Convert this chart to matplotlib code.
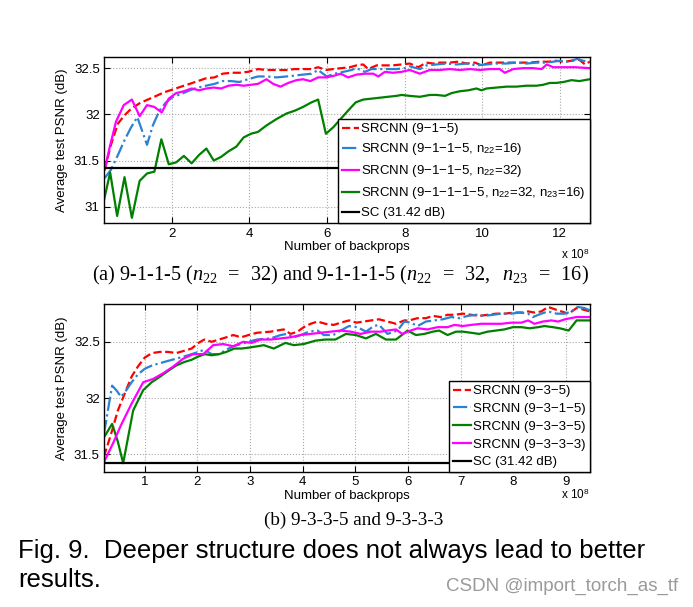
import numpy as np
import matplotlib
matplotlib.use("Agg")
import matplotlib.pyplot as plt
from matplotlib.ticker import FormatStrFormatter

plt.rcParams['font.family'] = ['Liberation Sans', 'DejaVu Sans']
plt.rcParams['mathtext.fontset'] = 'custom'
plt.rcParams['mathtext.rm'] = 'Liberation Serif'
plt.rcParams['mathtext.it'] = 'Liberation Serif:italic'
plt.rcParams['mathtext.sf'] = 'Liberation Sans'

# ---- panel (a) data, x in 1e8 backprops ----
a_red_x = [0.27, 0.43, 0.61, 0.78, 0.95, 1.17, 1.38, 1.60, 1.81, 2.03, 2.24, 2.46, 2.67, 2.88, 3.10, 3.31,
           3.53, 3.74, 3.96, 4.22, 4.44, 4.70, 4.96, 5.17, 5.38, 5.60, 5.77, 5.97, 6.16, 6.37, 6.59, 6.76,
           6.93, 7.06, 7.28, 7.49, 7.70, 7.92, 8.13, 8.35, 8.56, 8.73, 8.91, 9.16, 9.38, 9.60, 9.81, 9.98,
           10.20, 10.45, 10.71, 10.97, 11.23, 11.48, 11.70, 11.91, 12.09, 12.30, 12.50, 12.65, 12.77]
a_red_y = [31.40, 31.67, 31.90, 31.99, 32.06, 32.12, 32.16, 32.20, 32.24, 32.27, 32.30, 32.33, 32.36, 32.39,
           32.40, 32.44, 32.45, 32.45, 32.46, 32.49, 32.48, 32.48, 32.48, 32.49, 32.49, 32.49, 32.51, 32.48,
           32.49, 32.50, 32.51, 32.53, 32.54, 32.49, 32.53, 32.53, 32.53, 32.54, 32.55, 32.51, 32.56, 32.55,
           32.56, 32.56, 32.57, 32.55, 32.56, 32.53, 32.56, 32.56, 32.56, 32.56, 32.56, 32.57, 32.57, 32.58,
           32.57, 32.58, 32.59, 32.54, 32.57]

a_blue_x = [0.27, 0.43, 0.61, 0.78, 0.95, 1.11, 1.21, 1.36, 1.51, 1.68, 1.85, 2.03, 2.24, 2.46, 2.67, 2.88,
            3.10, 3.31, 3.53, 3.74, 3.96, 4.22, 4.44, 4.70, 4.96, 5.17, 5.38, 5.60, 5.77, 5.99, 6.20, 6.42,
            6.63, 6.76, 6.97, 7.15, 7.36, 7.57, 7.79, 8.01, 8.13, 8.39, 8.56, 8.82, 9.08, 9.34, 9.60, 9.85,
            10.11, 10.37, 10.63, 10.88, 11.14, 11.40, 11.66, 11.83, 12.00, 12.20, 12.45, 12.60, 12.77]
a_blue_y = [31.31, 31.40, 31.56, 31.72, 31.86, 31.97, 31.85, 31.67, 31.88, 32.04, 32.13, 32.19, 32.22, 32.26,
            32.29, 32.31, 32.33, 32.36, 32.36, 32.35, 32.38, 32.41, 32.41, 32.40, 32.41, 32.42, 32.43, 32.44,
            32.48, 32.41, 32.44, 32.46, 32.48, 32.50, 32.46, 32.49, 32.49, 32.49, 32.49, 32.50, 32.52, 32.49,
            32.53, 32.54, 32.55, 32.54, 32.55, 32.53, 32.54, 32.55, 32.55, 32.56, 32.55, 32.56, 32.56, 32.57,
            32.58, 32.57, 32.60, 32.58, 32.57]

a_mag_x = [0.27, 0.39, 0.56, 0.76, 0.97, 1.17, 1.36, 1.55, 1.74, 1.92, 2.11, 2.31, 2.51, 2.70, 2.89, 3.08,
           3.27, 3.46, 3.66, 3.85, 4.04, 4.22, 4.44, 4.61, 4.80, 5.00, 5.21, 5.38, 5.57, 5.77, 5.99, 6.20,
           6.35, 6.54, 6.76, 6.97, 7.19, 7.32, 7.49, 7.70, 7.92, 8.13, 8.39, 8.65, 8.91, 9.16, 9.42, 9.68,
           9.94, 10.20, 10.45, 10.58, 10.80, 11.05, 11.31, 11.53, 11.66, 11.83, 12.09, 12.40, 12.77]
a_mag_y = [31.40, 31.63, 31.92, 32.10, 32.16, 31.98, 32.10, 32.08, 32.02, 32.17, 32.23, 32.25, 32.28, 32.26,
           32.28, 32.29, 32.28, 32.31, 32.32, 32.31, 32.32, 32.33, 32.38, 32.33, 32.30, 32.34, 32.37, 32.38,
           32.36, 32.40, 32.40, 32.42, 32.44, 32.40, 32.43, 32.44, 32.44, 32.41, 32.46, 32.45, 32.46, 32.48,
           32.44, 32.48, 32.48, 32.49, 32.48, 32.49, 32.48, 32.49, 32.49, 32.45, 32.49, 32.50, 32.50, 32.49,
           32.54, 32.51, 32.51, 32.51, 32.50]

a_green_x = [0.25, 0.41, 0.59, 0.78, 0.97, 1.17, 1.36, 1.55, 1.73, 1.92, 2.11, 2.31, 2.51, 2.70, 2.89, 3.08,
             3.27, 3.46, 3.66, 3.85, 4.04, 4.22, 4.44, 4.70, 4.96, 5.17, 5.38, 5.60, 5.77, 5.97, 6.16, 6.35,
             6.54, 6.74, 6.93, 7.15, 7.36, 7.57, 7.79, 7.92, 8.13, 8.39, 8.65, 8.82, 9.04, 9.21, 9.42, 9.64,
             9.85, 9.98, 10.11, 10.37, 10.63, 10.88, 11.14, 11.40, 11.57, 11.74, 11.91, 12.09, 12.30, 12.50,
             12.77]
a_green_y = [31.07, 31.37, 30.90, 31.32, 30.88, 31.28, 31.36, 31.38, 31.73, 31.46, 31.48, 31.55, 31.47, 31.56,
             31.63, 31.50, 31.54, 31.60, 31.65, 31.75, 31.79, 31.81, 31.88, 31.95, 32.01, 32.04, 32.08, 32.13,
             32.16, 31.79, 31.86, 31.95, 32.04, 32.13, 32.16, 32.17, 32.18, 32.19, 32.20, 32.21, 32.20, 32.19,
             32.21, 32.21, 32.20, 32.23, 32.25, 32.26, 32.28, 32.26, 32.28, 32.29, 32.30, 32.30, 32.31, 32.31,
             32.32, 32.34, 32.34, 32.35, 32.37, 32.36, 32.38]

a_labels = ["SRCNN (9\u22121\u22125)",
            "SRCNN (9\u22121\u22121\u22125, n$_{\\mathsf{22}}$=16)",
            "SRCNN (9\u22121\u22121\u22125, n$_{\\mathsf{22}}$=32)",
            "SRCNN (9\u22121\u22121\u22121\u22125, n$_{\\mathsf{22}}$=32, n$_{\\mathsf{23}}$=16)",
            "SC (31.42 dB)"]

# ---- panel (b) data ----
b_red_x = [0.225, 0.36, 0.49, 0.62, 0.75, 0.87, 1.00, 1.14, 1.29, 1.44, 1.60, 1.75, 1.89, 2.02, 2.13, 2.27,
           2.41, 2.55, 2.68, 2.83, 2.97, 3.13, 3.39, 3.51, 3.64, 3.77, 3.90, 4.02, 4.15, 4.28, 4.43, 4.59,
           4.72, 4.88, 5.02, 5.16, 5.30, 5.45, 5.61, 5.77, 5.93, 6.02, 6.18, 6.34, 6.47, 6.62, 6.75, 6.88,
           7.04, 7.20, 7.35, 7.51, 7.67, 7.83, 8.02, 8.18, 8.28, 8.40, 8.53, 8.66, 8.78, 8.91, 9.05, 9.20,
           9.30, 9.45]
b_red_y = [31.48, 31.68, 31.89, 32.04, 32.19, 32.28, 32.36, 32.40, 32.41, 32.41, 32.40, 32.42, 32.44, 32.49,
           32.52, 32.50, 32.52, 32.54, 32.56, 32.54, 32.56, 32.58, 32.59, 32.60, 32.61, 32.57, 32.59, 32.63,
           32.66, 32.68, 32.66, 32.65, 32.67, 32.69, 32.67, 32.68, 32.69, 32.70, 32.68, 32.66, 32.69, 32.69,
           32.71, 32.71, 32.73, 32.72, 32.74, 32.74, 32.75, 32.74, 32.73, 32.74, 32.75, 32.75, 32.76, 32.76,
           32.77, 32.76, 32.77, 32.81, 32.79, 32.77, 32.75, 32.80, 32.79, 32.77]

b_blue_x = [0.225, 0.30, 0.38, 0.46, 0.55, 0.65, 0.75, 0.87, 1.00, 1.14, 1.29, 1.44, 1.60, 1.75, 1.89, 2.02,
            2.13, 2.27, 2.41, 2.55, 2.68, 2.83, 2.97, 3.13, 3.39, 3.58, 3.70, 3.83, 3.96, 4.12, 4.28, 4.40,
            4.58, 4.72, 4.88, 5.04, 5.20, 5.35, 5.45, 5.61, 5.80, 5.93, 6.05, 6.18, 6.34, 6.50, 6.66, 6.82,
            6.97, 7.13, 7.29, 7.45, 7.61, 7.77, 7.96, 8.12, 8.28, 8.37, 8.53, 8.66, 8.82, 8.98, 9.10, 9.22,
            9.35, 9.45]
b_blue_y = [31.68, 31.89, 32.11, 32.07, 32.01, 32.07, 32.14, 32.21, 32.26, 32.29, 32.31, 32.33, 32.35, 32.37,
            32.39, 32.41, 32.43, 32.39, 32.39, 32.43, 32.46, 32.48, 32.50, 32.52, 32.53, 32.56, 32.57, 32.54,
            32.56, 32.59, 32.60, 32.56, 32.56, 32.60, 32.64, 32.63, 32.59, 32.64, 32.65, 32.57, 32.60, 32.68,
            32.67, 32.64, 32.68, 32.69, 32.70, 32.72, 32.71, 32.73, 32.74, 32.73, 32.74, 32.75, 32.75, 32.76,
            32.75, 32.72, 32.75, 32.77, 32.75, 32.75, 32.77, 32.81, 32.80, 32.78]

b_green_x = [0.225, 0.38, 0.49, 0.59, 0.78, 0.97, 1.13, 1.29, 1.44, 1.60, 1.75, 1.89, 2.02, 2.14, 2.27, 2.41,
             2.55, 2.70, 2.84, 3.00, 3.14, 3.26, 3.45, 3.67, 3.83, 4.02, 4.24, 4.43, 4.62, 4.82, 5.01, 5.20,
             5.39, 5.58, 5.77, 5.91, 5.99, 6.15, 6.31, 6.47, 6.59, 6.75, 6.91, 7.04, 7.20, 7.35, 7.51, 7.67,
             7.83, 7.99, 8.15, 8.31, 8.47, 8.59, 8.75, 8.88, 9.05, 9.20, 9.45]
b_green_y = [31.65, 31.77, 31.61, 31.42, 31.89, 32.07, 32.14, 32.19, 32.24, 32.29, 32.32, 32.34, 32.37, 32.39,
             32.38, 32.39, 32.41, 32.44, 32.44, 32.45, 32.46, 32.47, 32.44, 32.49, 32.47, 32.48, 32.51, 32.52,
             32.52, 32.57, 32.56, 32.53, 32.57, 32.52, 32.52, 32.57, 32.60, 32.56, 32.57, 32.59, 32.60, 32.56,
             32.59, 32.59, 32.58, 32.57, 32.59, 32.60, 32.61, 32.63, 32.63, 32.62, 32.63, 32.64, 32.63, 32.62,
             32.60, 32.69, 32.69]

b_mag_x = [0.225, 0.40, 0.55, 0.75, 0.97, 1.16, 1.35, 1.54, 1.73, 1.92, 2.11, 2.30, 2.49, 2.68, 2.87, 3.03,
           3.20, 3.39, 3.58, 3.77, 3.96, 4.15, 4.34, 4.53, 4.72, 4.91, 5.10, 5.29, 5.48, 5.61, 5.77, 5.89,
           6.05, 6.18, 6.37, 6.56, 6.75, 6.88, 7.04, 7.20, 7.39, 7.58, 7.77, 7.96, 8.15, 8.28, 8.40, 8.56,
           8.72, 8.85, 8.98, 9.20, 9.45]
b_mag_y = [31.43, 31.60, 31.76, 31.95, 32.14, 32.17, 32.22, 32.28, 32.35, 32.39, 32.39, 32.47, 32.48, 32.46,
           32.50, 32.49, 32.52, 32.52, 32.53, 32.54, 32.56, 32.57, 32.58, 32.59, 32.60, 32.59, 32.57, 32.59,
           32.59, 32.60, 32.61, 32.57, 32.60, 32.62, 32.61, 32.63, 32.63, 32.65, 32.64, 32.65, 32.66, 32.66,
           32.66, 32.67, 32.67, 32.69, 32.66, 32.68, 32.69, 32.68, 32.70, 32.72, 32.72]

b_labels = ["SRCNN (9\u22123\u22125)", "SRCNN (9\u22123\u22121\u22125)", "SRCNN (9\u22123\u22123\u22125)",
            "SRCNN (9\u22123\u22123\u22123)", "SC (31.42 dB)"]

sc_psnr = 31.42

RED, BLUE, MAG, GREEN = '#ff0000', '#2a82d4', '#ff00ff', '#007f00'
FS = 9.5


def style(ax, xlim, ylim, xticks, yticks):
    ax.set_xlim(*xlim)
    ax.set_ylim(*ylim)
    ax.set_xticks(xticks)
    ax.set_yticks(yticks)
    ax.yaxis.set_major_formatter(FormatStrFormatter('%g'))
    ax.grid(True, linestyle=':', color='#a8a8a8', linewidth=0.8)
    ax.tick_params(direction='in', top=True, right=True, length=4, labelsize=FS, pad=3)
    for s in ax.spines.values():
        s.set_linewidth(1.0)
    ax.set_xlabel("Number of backprops", fontsize=FS, labelpad=1)
    ax.set_ylabel("Average test PSNR (dB)", fontsize=FS, labelpad=4)


def add_legend(ax, spacing):
    leg = ax.legend(loc='lower right', bbox_to_anchor=(1, 0), borderaxespad=0, fancybox=False,
                    edgecolor='k', framealpha=1, fontsize=FS, handlelength=1.3, handletextpad=0.2,
                    labelspacing=spacing, borderpad=0.3)
    leg.get_frame().set_linewidth(1.0)
    return leg


fig = plt.figure(figsize=(6.93, 6.07), dpi=100)

# panel (a)
ax1 = fig.add_axes([0.150, 0.632, 0.701, 0.274])
ax1.plot(a_red_x, a_red_y, '--', color=RED, lw=1.6, label=a_labels[0])
ax1.plot(a_blue_x, a_blue_y, '-.', color=BLUE, lw=1.6, label=a_labels[1])
ax1.plot(a_mag_x, a_mag_y, '-', color=MAG, lw=1.6, label=a_labels[2])
ax1.plot(a_green_x, a_green_y, '-', color=GREEN, lw=1.6, label=a_labels[3])
ax1.axhline(sc_psnr, color='k', lw=1.6, label=a_labels[4])
style(ax1, (0.25, 12.77), (30.82, 32.62), [2, 4, 6, 8, 10, 12], [31, 31.5, 32, 32.5])
add_legend(ax1, 0.45)

# panel (b)
ax2 = fig.add_axes([0.150, 0.222, 0.701, 0.277])
ax2.plot(b_red_x, b_red_y, '--', color=RED, lw=1.6, label=b_labels[0])
ax2.plot(b_blue_x, b_blue_y, '-.', color=BLUE, lw=1.6, label=b_labels[1])
ax2.plot(b_green_x, b_green_y, '-', color=GREEN, lw=1.6, label=b_labels[2])
ax2.plot(b_mag_x, b_mag_y, '-', color=MAG, lw=1.6, label=b_labels[3])
ax2.axhline(sc_psnr, color='k', lw=1.6, label=b_labels[4])
style(ax2, (0.225, 9.45), (31.34, 32.835), list(range(1, 10)), [31.5, 32, 32.5])
add_legend(ax2, 0.42)

# exponent labels
fig.text(0.851, 1 - 255 / 607, "x 10$^{\\mathsf{8}}$", ha='right', va='center', fontsize=8.5)
fig.text(0.851, 1 - 495 / 607, "x 10$^{\\mathsf{8}}$", ha='right', va='center', fontsize=8.5)

# sub captions
fig.text(340 / 693, 1 - 275 / 607,
         "(a) 9-1-1-5 ($n_{22}\\;\\;=\\;\\;32$) and 9-1-1-1-5 "
         "($n_{22}\\;\\;=\\;\\;32,\\ \\ n_{23}\\;\\;=\\;\\;16$)",
         ha='center', va='center', fontsize=14.6, family='Liberation Serif')
fig.text(354 / 693, 1 - 520 / 607, "(b) 9-3-3-5 and 9-3-3-3",
         ha='center', va='center', fontsize=13.75, family='Liberation Serif')

# figure caption
fig.text(18 / 693, 1 - 551 / 607, "Fig. 9.  Deeper structure does not always lead to better",
         ha='left', va='center', fontsize=18.5)
fig.text(18 / 693, 1 - 580 / 607, "results.", ha='left', va='center', fontsize=18.5)
fig.text(678 / 693, 1 - 586 / 607, "CSDN @import_torch_as_tf", ha='right', va='center',
         fontsize=13.5, color='#9a9a9a')

fig.savefig("out.png", dpi=100)
